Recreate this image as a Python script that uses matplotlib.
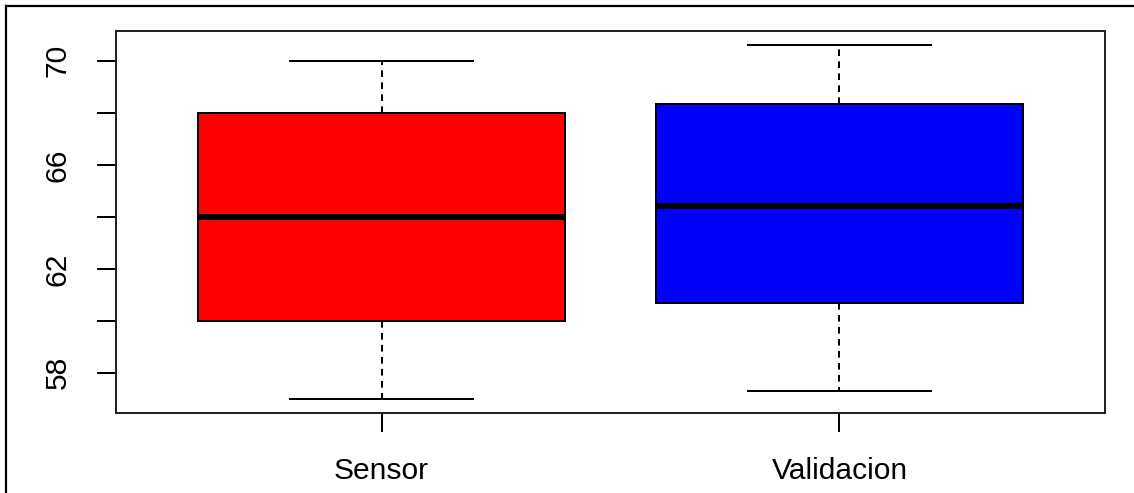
import matplotlib
matplotlib.use("Agg")
import matplotlib.pyplot as plt
from matplotlib.lines import Line2D

categories = ["Sensor", "Validacion"]
whisker_low = [57.0, 57.3]
q1 = [60.0, 60.7]
median = [64.0, 64.4]
q3 = [68.0, 68.35]
whisker_high = [70.0, 70.6]
colors = ["#FF0000", "#0000FF"]
ytick_values = [58, 60, 62, 64, 66, 68, 70]
ytick_labels = ["58", "", "62", "", "66", "", "70"]

plt.rcParams['font.family'] = ['Liberation Sans', 'DejaVu Sans']
DPI = 100
W, H = 1134, 493
fig = plt.figure(figsize=(W / DPI, H / DPI), dpi=DPI)
fig.patch.set_facecolor("white")

left, right, top, bottom = 116, 1105, 31, 413
ax = fig.add_axes([left / W, (H - bottom) / H, (right - left) / W, (bottom - top) / H])

stats = []
for i, name in enumerate(categories):
    stats.append(dict(label=name, whislo=whisker_low[i], q1=q1[i], med=median[i],
                      q3=q3[i], whishi=whisker_high[i], fliers=[]))

lw = 1.44
bp = ax.bxp(stats, positions=[1, 2], widths=0.8, patch_artist=True, showfliers=False,
            boxprops=dict(linewidth=lw, edgecolor="black"),
            medianprops=dict(color="black", linewidth=4.3, solid_capstyle="butt"),
            whiskerprops=dict(color="black", linewidth=lw, linestyle=(0, (3.3, 2.7))),
            capprops=dict(color="black", linewidth=lw),
            capwidths=0.4)
for patch, c in zip(bp["boxes"], colors):
    patch.set_facecolor(c)

span = max(whisker_high) - min(whisker_low)
ax.set_ylim(min(whisker_low) - 0.04 * span, max(whisker_high) + 0.04 * span)
ax.set_xlim(0.42, 2.58)

ax.set_yticks(ytick_values)
ax.set_yticklabels(ytick_labels, rotation=90, va="center", fontsize=21.6)
ax.set_xticks([1, 2])
ax.set_xticklabels(categories, fontsize=21.6)
ax.tick_params(axis="y", length=13.7, width=lw, pad=18, direction="out")
ax.tick_params(axis="x", length=13.7, width=lw, pad=18, direction="out")
for s in ax.spines.values():
    s.set_linewidth(lw)
    s.set_color("#222222")

# outer frame lines (left and top)
fig.add_artist(Line2D([6 / W, 6 / W], [0, 1 - 6 / H], color="black", linewidth=1.6,
                      transform=fig.transFigure))
fig.add_artist(Line2D([6 / W, 1], [1 - 6 / H, 1 - 6 / H], color="black", linewidth=1.6,
                      transform=fig.transFigure))

fig.savefig("out.png", dpi=DPI)
